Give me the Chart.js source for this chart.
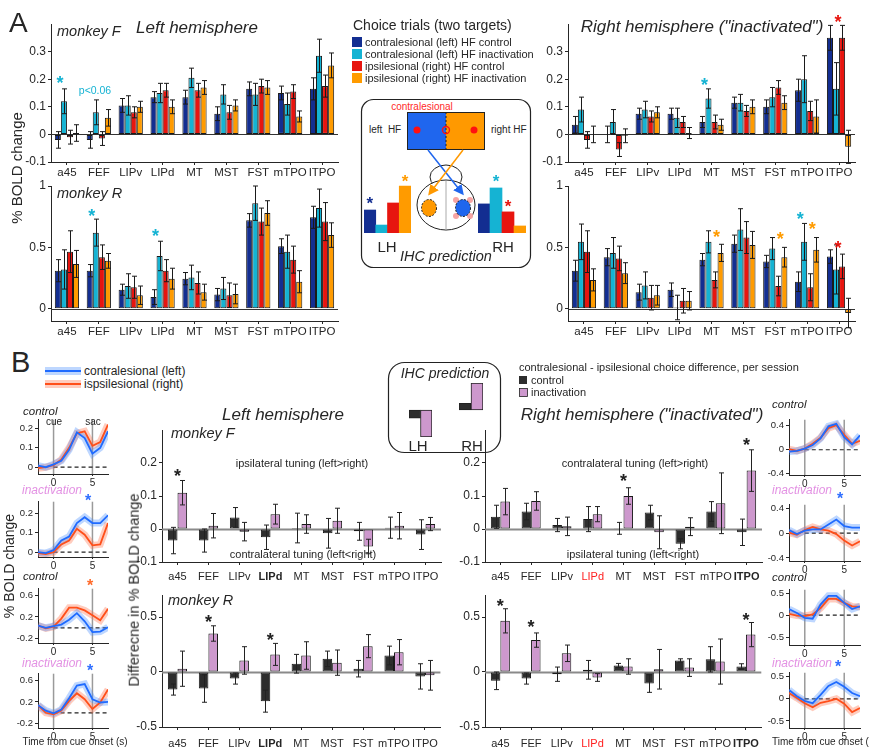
<!DOCTYPE html>
<html lang="en">
<head>
  <meta charset="UTF-8" />
  <title>Choice trials BOLD</title>
  <style>
    body { margin: 0; background: #fff; }
    #fig { position: relative; width: 869px; height: 750px; overflow: hidden; font-family: "Liberation Sans", Arial, sans-serif; color: #262626; }
    #fig canvas { position: absolute; }
    #fig svg { position: absolute; left: 0; top: 0; }
    .t { position: absolute; white-space: nowrap; line-height: 1; }
  </style>
  <script src="https://cdn.jsdelivr.net/npm/chart.js"></script>
</head>
<body>
<div id="fig">
  <svg width="869" height="750">
    <defs>
      <marker id="ab" markerWidth="7" markerHeight="7" refX="5" refY="3.5" orient="auto"><path d="M0,0 L7,3.5 L0,7 z" fill="#1f66ee" /></marker>
      <marker id="ao" markerWidth="7" markerHeight="7" refX="5" refY="3.5" orient="auto"><path d="M0,0 L7,3.5 L0,7 z" fill="#ff9900" /></marker>
    </defs>
    <!-- legend A -->
    <rect x="352" y="37" width="10" height="10" fill="#132e91" />
    <rect x="352" y="49" width="10" height="10" fill="#15b3d3" />
    <rect x="352" y="61" width="10" height="10" fill="#e7150f" />
    <rect x="352" y="73" width="10" height="10" fill="#ff9b00" />
    <!-- schematic A -->
    <rect x="361.5" y="99.5" width="169" height="168" rx="12" fill="none" stroke="#222" stroke-width="1.2" />
    <rect x="407" y="112" width="39" height="37" fill="#1f66ee" />
    <rect x="446" y="112" width="38" height="37" fill="#ff9900" />
    <rect x="407.5" y="112.5" width="77" height="37" fill="none" stroke="#222" />
    <line x1="446" y1="112" x2="446" y2="149" stroke="#222" stroke-dasharray="2,2" />
    <circle cx="417" cy="130" r="3.5" fill="#ff1010" />
    <circle cx="446" cy="130" r="3.5" fill="none" stroke="#ff1010" stroke-width="1.3" />
    <circle cx="474" cy="130" r="3.5" fill="#ff1010" />
    <ellipse cx="446" cy="177" rx="16" ry="12" fill="#fff" stroke="#222" />
    <ellipse cx="446" cy="205" rx="29" ry="25" fill="#fff" stroke="#222" />
    <line x1="446" y1="181" x2="446" y2="230" stroke="#aaa" />
    <g fill="#f6a4a4">
      <circle cx="456" cy="200" r="3" /><circle cx="470" cy="200" r="3" />
      <circle cx="456" cy="216" r="3" /><circle cx="470" cy="216" r="3" />
    </g>
    <ellipse cx="429" cy="208" rx="7.5" ry="8.5" fill="#ff9900" stroke="#222" stroke-dasharray="2,1.5" />
    <ellipse cx="463" cy="208" rx="7.5" ry="8.5" fill="#1f66ee" stroke="#222" stroke-dasharray="2,1.5" />
    <line x1="428" y1="150" x2="462" y2="193" stroke="#1f66ee" stroke-width="1.5" marker-end="url(#ab)" />
    <line x1="463" y1="150" x2="430" y2="193" stroke="#ff9900" stroke-width="1.5" marker-end="url(#ao)" />
    <!-- legend B -->
    <line x1="45" y1="371" x2="81" y2="371" stroke="rgba(70,140,255,0.35)" stroke-width="8" />
    <line x1="45" y1="371" x2="81" y2="371" stroke="#1f6bff" stroke-width="2" />
    <line x1="45" y1="384" x2="81" y2="384" stroke="rgba(255,110,70,0.35)" stroke-width="8" />
    <line x1="45" y1="384" x2="81" y2="384" stroke="#ff4f1a" stroke-width="2" />
    <rect x="388.5" y="362.5" width="112" height="90" rx="16" fill="none" stroke="#222" stroke-width="1.2" />
    <rect x="519" y="376" width="8" height="8" fill="#2d2d2d" />
    <rect x="519.5" y="388.5" width="8" height="8" fill="#cd98cd" stroke="#222" stroke-width="0.8" />
  </svg>
</div>
<script>
  // ---- categories and ticks
  const areas = ['a45', 'FEF', 'LIPv', 'LIPd', 'MT', 'MST', 'FST', 'mTPO', 'ITPO'];
  const condColors = ['#132e91', '#15b3d3', '#e7150f', '#ff9b00'];
  const diffColors = ['#2d2d2d', '#cd98cd'];
  const ticksAF = [-0.1, 0, 0.1, 0.2, 0.3];
  const ticksAR = [0, 0.5, 1];
  const ticksBF = [-0.1, 0, 0.1, 0.2];
  const ticksBR = [-0.5, 0, 0.5];
  const timeS = [-2, -1, 0, 1, 2, 3, 4, 5, 6, 7];
  const timeTicks = [0, 5];
  const eventTimes = [0, 5];

  // ---- A: monkey F, left hemisphere (contra ctrl, contra inact, ipsi ctrl, ipsi inact)
  const fL_cc = [-0.02, -0.02, 0.105, 0.135, 0.135, 0.075, 0.165, 0.15, 0.165];
  const fL_ci = [0.12, 0.08, 0.105, 0.15, 0.205, 0.145, 0.145, 0.11, 0.285];
  const fL_ic = [-0.01, -0.015, 0.08, 0.16, 0.16, 0.08, 0.175, 0.155, 0.175];
  const fL_ii = [0.005, 0.06, 0.1, 0.1, 0.17, 0.105, 0.17, 0.065, 0.25];
  const fL_cc_e = [0.03, 0.03, 0.025, 0.02, 0.025, 0.025, 0.025, 0.025, 0.04];
  const fL_ci_e = [0.045, 0.045, 0.035, 0.035, 0.035, 0.035, 0.04, 0.04, 0.06];
  const fL_ic_e = [0.025, 0.025, 0.02, 0.025, 0.025, 0.025, 0.025, 0.025, 0.04];
  const fL_ii_e = [0.03, 0.03, 0.02, 0.025, 0.025, 0.02, 0.025, 0.02, 0.045];
  const fL_stars = [[0, 1, 0.2]];

  // monkey R, left hemisphere
  const rL_cc = [0.31, 0.31, 0.155, 0.095, 0.245, 0.115, 0.72, 0.51, 0.745];
  const rL_ci = [0.32, 0.62, 0.185, 0.43, 0.255, 0.165, 0.86, 0.465, 0.82];
  const rL_ic = [0.465, 0.42, 0.175, 0.31, 0.21, 0.11, 0.71, 0.40, 0.71];
  const rL_ii = [0.365, 0.39, 0.11, 0.245, 0.135, 0.12, 0.78, 0.22, 0.60];
  const rL_cc_e = [0.09, 0.05, 0.045, 0.06, 0.05, 0.05, 0.055, 0.06, 0.09];
  const rL_ci_e = [0.16, 0.11, 0.1, 0.12, 0.1, 0.09, 0.14, 0.135, 0.155];
  const rL_ic_e = [0.17, 0.1, 0.09, 0.09, 0.09, 0.1, 0.11, 0.11, 0.155];
  const rL_ii_e = [0.11, 0.06, 0.075, 0.085, 0.065, 0.08, 0.1, 0.09, 0.1];
  const rL_stars = [[1, 1, 0.78], [3, 1, 0.62]];

  // monkey F, right hemisphere
  const fR_cc = [0.035, 0.0, 0.075, 0.075, 0.045, 0.115, 0.10, 0.16, 0.35];
  const fR_ci = [0.09, 0.045, 0.09, 0.06, 0.13, 0.115, 0.135, 0.20, 0.165];
  const fR_ic = [-0.02, -0.055, 0.065, 0.045, 0.045, 0.085, 0.17, 0.085, 0.35];
  const fR_ii = [0.0, -0.005, 0.08, 0.005, 0.035, 0.10, 0.115, 0.065, -0.045];
  const fR_cc_e = [0.03, 0.03, 0.02, 0.02, 0.02, 0.02, 0.025, 0.04, 0.045];
  const fR_ci_e = [0.045, 0.045, 0.03, 0.035, 0.035, 0.03, 0.035, 0.085, 0.095];
  const fR_ic_e = [0.03, 0.025, 0.02, 0.02, 0.025, 0.02, 0.025, 0.035, 0.045];
  const fR_ii_e = [0.03, 0.025, 0.02, 0.02, 0.02, 0.025, 0.025, 0.06, 0.06];
  const fR_stars = [[4, 1, 0.193], [8, 2, 0.42]];

  // monkey R, right hemisphere
  const rR_cc = [0.31, 0.42, 0.135, 0.155, 0.40, 0.53, 0.385, 0.22, 0.425];
  const rR_ci = [0.545, 0.455, 0.19, 0.01, 0.545, 0.645, 0.49, 0.545, 0.32];
  const rR_ic = [0.465, 0.41, 0.09, 0.065, 0.235, 0.58, 0.185, 0.175, 0.345];
  const rR_ii = [0.235, 0.29, 0.11, 0.065, 0.455, 0.52, 0.42, 0.48, -0.035];
  const rR_cc_e = [0.085, 0.07, 0.065, 0.055, 0.05, 0.07, 0.05, 0.08, 0.055];
  const rR_ci_e = [0.145, 0.125, 0.11, 0.1, 0.09, 0.17, 0.09, 0.15, 0.2];
  const rR_ic_e = [0.17, 0.1, 0.1, 0.1, 0.065, 0.13, 0.08, 0.11, 0.1];
  const rR_ii_e = [0.09, 0.085, 0.08, 0.075, 0.07, 0.11, 0.08, 0.1, 0.12];
  const rR_stars = [[4, 3, 0.61], [6, 3, 0.60], [7, 1, 0.76], [7, 3, 0.68], [8, 2, 0.52]];

  // schematic prediction bars (contra ctrl, contra inact, ipsi ctrl, ipsi inact)
  const predA_LH = [0.49, 0.17, 0.64, 1.0];
  const predA_RH = [0.62, 0.96, 0.45, 0.15];
  const predA_LH_stars = [[0, 0.70], [3, 1.17]];
  const predA_RH_stars = [[1, 1.17], [2, 0.64]];

  // ---- B: contra - ipsi difference (control, inactivation)
  const bFL_ctrl = [-0.035, -0.035, 0.035, -0.025, 0.003, -0.013, -0.007, 0.004, -0.017];
  const bFL_inact = [0.11, 0.01, -0.008, 0.045, 0.015, 0.025, -0.053, 0.01, 0.015];
  const bFL_ctrl_e = [0.04, 0.035, 0.03, 0.037, 0.045, 0.045, 0.027, 0.032, 0.045];
  const bFL_inact_e = [0.037, 0.037, 0.028, 0.03, 0.028, 0.038, 0.022, 0.04, 0.02];
  const bFL_stars = [[0, 0.17]];

  const bFR_ctrl = [0.037, 0.053, 0.012, 0.03, 0.002, 0.05, -0.045, 0.053, -0.01];
  const bFR_inact = [0.083, 0.085, 0.008, 0.045, 0.10, -0.01, 0.007, 0.078, 0.177];
  const bFR_ctrl_e = [0.035, 0.025, 0.02, 0.038, 0.018, 0.022, 0.015, 0.03, 0.04];
  const bFR_inact_e = [0.04, 0.028, 0.028, 0.023, 0.025, 0.05, 0.027, 0.092, 0.063];
  const bFR_stars = [[4, 0.155], [8, 0.265]];

  const bRL_ctrl = [-0.16, -0.15, -0.06, -0.265, 0.075, 0.12, 0.03, 0.15, -0.04];
  const bRL_inact = [0.03, 0.35, 0.105, 0.16, 0.15, 0.085, 0.235, 0.18, -0.03];
  const bRL_ctrl_e = [0.05, 0.125, 0.05, 0.1, 0.085, 0.07, 0.075, 0.085, 0.115];
  const bRL_inact_e = [0.16, 0.07, 0.125, 0.1, 0.125, 0.115, 0.105, 0.115, 0.135];
  const bRL_stars = [[1, 0.485], [3, 0.32]];

  const bRR_ctrl = [-0.08, -0.06, -0.02, 0.02, 0.06, -0.105, 0.105, 0.115, 0.05];
  const bRR_inact = [0.465, 0.29, 0.17, -0.05, 0.05, 0.025, 0.04, 0.095, 0.34];
  const bRR_ctrl_e = [0.08, 0.05, 0.065, 0.085, 0.018, 0.08, 0.015, 0.115, 0.025];
  const bRR_inact_e = [0.11, 0.065, 0.075, 0.035, 0.07, 0.18, 0.08, 0.205, 0.11];
  const bRR_stars = [[0, 0.636], [1, 0.44], [8, 0.5]];

  const predB_LH = [-0.3, -1.0];
  const predB_RH = [0.25, 1.0];

  // ---- time courses (contralesional = blue, ipsilesional = orange)
  const tcL1_contra = [0.008, 0.0, 0.015, 0.033, 0.09, 0.18, 0.15, 0.07, 0.10, 0.185];
  const tcL1_ipsi = [-0.005, 0.0, 0.01, 0.04, 0.10, 0.175, 0.185, 0.11, 0.13, 0.22];
  const tcL2_contra = [0.0, -0.005, 0.01, 0.06, 0.08, 0.15, 0.18, 0.15, 0.15, 0.19];
  const tcL2_ipsi = [-0.005, -0.01, 0.0, 0.04, 0.06, 0.12, 0.09, 0.035, 0.04, 0.15];
  const tcL3_contra = [0.04, 0.0, 0.03, 0.06, 0.15, 0.27, 0.12, -0.08, -0.07, 0.01];
  const tcL3_ipsi = [0.04, -0.01, 0.02, 0.17, 0.37, 0.37, 0.32, 0.23, 0.14, 0.35];
  const tcL4_contra = [0.14, 0.04, -0.01, 0.06, 0.27, 0.5, 0.53, 0.25, 0.19, 0.2];
  const tcL4_ipsi = [0.14, 0.0, -0.03, 0.04, 0.22, 0.36, 0.25, 0.07, 0.19, 0.43];
  const tcR1_contra = [-0.03, -0.02, 0.02, 0.08, 0.19, 0.39, 0.43, 0.21, 0.09, 0.24];
  const tcR1_ipsi = [0.01, -0.02, 0.02, 0.1, 0.2, 0.36, 0.41, 0.25, 0.1, 0.15];
  const tcR2_contra = [0.05, -0.015, 0.04, 0.06, 0.06, 0.14, 0.22, 0.115, 0.09, 0.09];
  const tcR2_ipsi = [0.01, -0.025, 0.05, 0.1, 0.06, 0.04, -0.015, -0.12, -0.2, -0.13];
  const tcR3_contra = [0.14, 0.05, -0.06, -0.08, 0.24, 0.44, 0.44, 0.28, 0.14, 0.2];
  const tcR3_ipsi = [0.03, -0.01, -0.02, 0.015, 0.16, 0.37, 0.37, 0.28, 0.2, 0.19];
  const tcR4_contra = [0.2, 0.06, -0.05, -0.1, 0.09, 0.29, 0.38, 0.27, 0.13, 0.06];
  const tcR4_ipsi = [0.13, 0.02, -0.1, -0.19, -0.09, -0.05, 0.0, -0.11, -0.3, -0.21];

  // ---- setup
  Chart.defaults.font.family = '"Liberation Sans", Arial, sans-serif';
  Chart.defaults.color = '#262626';
  Chart.defaults.animation = false;
  Chart.defaults.plugins.legend.display = false;
  Chart.defaults.plugins.tooltip.enabled = false;

  const fig = document.getElementById('fig');
  const ink = '#262626';

  function makeCanvas(b) {
    const c = document.createElement('canvas');
    const w = b.r - b.l + b.yw + b.pr, h = b.b - b.t + b.xh + b.pt;
    c.width = w; c.height = h;
    c.style.left = (b.l - b.yw) + 'px';
    c.style.top = (b.t - b.pt) + 'px';
    c.style.width = w + 'px'; c.style.height = h + 'px';
    fig.appendChild(c);
    return c;
  }

  function txt(s, x, y, o = {}) {
    const d = document.createElement('div');
    d.className = 't';
    d.textContent = s;
    d.style.left = x + 'px'; d.style.top = y + 'px';
    d.style.fontSize = (o.size || 12) + 'px';
    if (o.it) d.style.fontStyle = 'italic';
    if (o.bold) d.style.fontWeight = 'bold';
    if (o.color) d.style.color = o.color;
    const ax = o.left ? '0' : '-50%';
    d.style.transform = `translate(${ax}, -50%)` + (o.rot ? ' rotate(-90deg)' : '');
    fig.appendChild(d);
  }
  const star = (x, y, color, size = 16) => txt('*', x, y + 0.23 * size, { size, color, bold: true });

  // plugins
  function errBars(errs, cap, color) {
    return {
      id: 'errBars',
      afterDatasetsDraw(chart) {
        const ctx = chart.ctx, y = chart.scales.y;
        ctx.save();
        ctx.strokeStyle = color; ctx.lineWidth = 1;
        errs.forEach((err, i) => {
          const vals = chart.data.datasets[i].data;
          chart.getDatasetMeta(i).data.forEach((bar, j) => {
            const lo = y.getPixelForValue(vals[j] - err[j]);
            const hi = y.getPixelForValue(vals[j] + err[j]);
            const x = Math.round(bar.x) + 0.5;
            ctx.beginPath();
            ctx.moveTo(x, lo); ctx.lineTo(x, hi);
            ctx.moveTo(x - cap, lo); ctx.lineTo(x + cap, lo);
            ctx.moveTo(x - cap, hi); ctx.lineTo(x + cap, hi);
            ctx.stroke();
          });
        });
        ctx.restore();
      }
    };
  }

  // list items: {a: category index, s: dataset index or null for category centre, v: value, c: colour}
  function starMarks(list, size, dx) {
    return {
      id: 'starMarks',
      afterDatasetsDraw(chart) {
        const { ctx, scales: { x, y } } = chart;
        ctx.save();
        ctx.font = `bold ${size}px "Liberation Sans", Arial`;
        ctx.textAlign = 'center'; ctx.textBaseline = 'middle';
        list.forEach(st => {
          const px = st.s == null ? x.getPixelForValue(st.a) : chart.getDatasetMeta(st.s).data[st.a].x + dx;
          ctx.fillStyle = st.c;
          ctx.fillText('*', px, y.getPixelForValue(st.v) + size * 0.25);
        });
        ctx.restore();
      }
    };
  }

  function refLines(o) {
    return {
      id: 'refLines',
      beforeDatasetsDraw(chart) {
        const { ctx, chartArea: a, scales: { x, y } } = chart;
        ctx.save();
        if (o.zeroColor) {
          const py = Math.round(y.getPixelForValue(0)) + 0.5;
          ctx.strokeStyle = o.zeroColor; ctx.lineWidth = o.zeroWidth;
          ctx.beginPath(); ctx.moveTo(a.left, py); ctx.lineTo(a.right, py); ctx.stroke();
        }
        if (o.events) {
          ctx.strokeStyle = '#9a9a9a'; ctx.lineWidth = 1.5;
          o.events.forEach(t => {
            const px = x.getPixelForValue(t);
            ctx.beginPath(); ctx.moveTo(px, a.top); ctx.lineTo(px, a.bottom); ctx.stroke();
          });
          const py = y.getPixelForValue(0);
          ctx.strokeStyle = '#222'; ctx.lineWidth = 1.2; ctx.setLineDash([4, 3]);
          ctx.beginPath(); ctx.moveTo(x.getPixelForValue(o.events[0]), py); ctx.lineTo(a.right, py); ctx.stroke();
        }
        ctx.restore();
      }
    };
  }

  // axes
  function yAxis(b, min, max, ticks, size) {
    return {
      type: 'linear', min, max,
      afterFit: s => { s.width = b.yw; },
      afterBuildTicks: s => { s.ticks = ticks.map(v => ({ value: v })); },
      border: { color: ink },
      grid: { drawOnChartArea: false, tickLength: 3, color: ink },
      ticks: { font: { size }, padding: 2, color: ink, callback: v => String(v) }
    };
  }
  function catAxis(b, pad, color, font) {
    return {
      type: 'category', offset: true,
      afterFit: s => { s.height = b.xh; },
      border: { color: ink },
      grid: { offset: false, drawOnChartArea: false, tickLength: 3, color: ink },
      ticks: { autoSkip: false, maxRotation: 0, padding: pad, color, font }
    };
  }

  // ---- panel A bar charts
  function barsA(b, vals, errs, yMin, yMax, yTicks, stars) {
    new Chart(makeCanvas(b), {
      type: 'bar',
      data: {
        labels: areas,
        datasets: vals.map((v, i) => ({
          data: v, backgroundColor: condColors[i], borderColor: '#1a1a1a', borderWidth: 1,
          borderSkipped: false, categoryPercentage: 0.76, barPercentage: 1
        }))
      },
      options: {
        responsive: false,
        layout: { padding: { top: b.pt, right: b.pr, left: 0, bottom: 0 } },
        scales: { x: catAxis(b, 1, ink, { size: 11.5 }), y: yAxis(b, yMin, yMax, yTicks, 12) }
      },
      plugins: [
        refLines({ zeroColor: '#333', zeroWidth: 1 }),
        errBars(errs, 2.5, '#1a1a1a'),
        starMarks(stars.map(s => ({ a: s[0], s: s[1], v: s[2], c: condColors[s[1]] })), 18, -4)
      ]
    });
  }

  const bxAFL = { l: 51, r: 338, t: 24, b: 162, yw: 38, xh: 22, pt: 14, pr: 6 };
  const bxARL = { l: 51, r: 338, t: 186, b: 321, yw: 38, xh: 22, pt: 14, pr: 6 };
  const bxAFR = { l: 568, r: 855, t: 24, b: 162, yw: 38, xh: 22, pt: 14, pr: 6 };
  const bxARR = { l: 568, r: 855, t: 186, b: 321, yw: 38, xh: 22, pt: 14, pr: 6 };

  barsA(bxAFL, [fL_cc, fL_ci, fL_ic, fL_ii], [fL_cc_e, fL_ci_e, fL_ic_e, fL_ii_e], -0.1, 0.4, ticksAF, fL_stars);
  barsA(bxARL, [rL_cc, rL_ci, rL_ic, rL_ii], [rL_cc_e, rL_ci_e, rL_ic_e, rL_ii_e], -0.1, 1.0, ticksAR, rL_stars);
  barsA(bxAFR, [fR_cc, fR_ci, fR_ic, fR_ii], [fR_cc_e, fR_ci_e, fR_ic_e, fR_ii_e], -0.1, 0.4, ticksAF, fR_stars);
  barsA(bxARR, [rR_cc, rR_ci, rR_ic, rR_ii], [rR_cc_e, rR_ci_e, rR_ic_e, rR_ii_e], -0.1, 1.0, ticksAR, rR_stars);

  // ---- small prediction bars (schematics)
  function miniBars(b, vals, colors, min, max, stars, border) {
    new Chart(makeCanvas({ ...b, yw: 0, xh: 0, pt: 0, pr: 0 }), {
      type: 'bar',
      data: {
        labels: vals.map((_, i) => i),
        datasets: [{ data: vals, backgroundColor: colors, borderColor: '#222', borderWidth: border,
          borderSkipped: false, categoryPercentage: 1, barPercentage: 1 }]
      },
      options: {
        responsive: false,
        layout: { padding: 0 },
        scales: { x: { display: false }, y: { display: false, min, max } }
      },
      plugins: [starMarks(stars.map(s => ({ a: s[0], s: 0, v: s[1], c: colors[s[0]] })), 17, 0)]
    });
  }
  miniBars({ l: 364, r: 411, t: 172, b: 233 }, predA_LH, condColors, 0, 1.3, predA_LH_stars, 0);
  miniBars({ l: 478, r: 526, t: 172, b: 233 }, predA_RH, condColors, 0, 1.3, predA_RH_stars, 0);
  miniBars({ l: 409, r: 432, t: 383, b: 437 }, predB_LH, diffColors, -1, 1, [], 1);
  miniBars({ l: 459, r: 483, t: 383, b: 437 }, predB_RH, diffColors, -1, 1, [], 1);

  // ---- panel B bar charts
  function barsB(b, vals, errs, yMin, yMax, yTicks, stars, pad, boldTicks, redTicks) {
    new Chart(makeCanvas(b), {
      type: 'bar',
      data: {
        labels: areas,
        datasets: vals.map((v, i) => ({
          data: v, backgroundColor: diffColors[i], borderColor: '#1a1a1a', borderWidth: 1,
          borderSkipped: false, categoryPercentage: 0.62, barPercentage: 1
        }))
      },
      options: {
        responsive: false,
        layout: { padding: { top: b.pt, right: b.pr, left: 0, bottom: 0 } },
        scales: {
          x: catAxis(b, pad,
            c => redTicks.includes(areas[c.index]) ? '#ff1f1f' : ink,
            c => ({ size: 11, weight: boldTicks.includes(areas[c.index]) ? 'bold' : 'normal' })),
          y: yAxis(b, yMin, yMax, yTicks, 12)
        }
      },
      plugins: [
        refLines({ zeroColor: '#8a8a8a', zeroWidth: 2 }),
        errBars(errs, 2.5, '#222'),
        starMarks(stars.map(s => ({ a: s[0], s: null, v: s[1], c: '#222' })), 18, 0)
      ]
    });
  }

  const bxBFL = { l: 162, r: 441, t: 430, b: 562, yw: 30, xh: 24, pt: 12, pr: 4 };
  const bxBRL = { l: 162, r: 441, t: 595, b: 727, yw: 30, xh: 24, pt: 12, pr: 4 };
  const bxBFR = { l: 485, r: 762, t: 430, b: 562, yw: 30, xh: 24, pt: 12, pr: 4 };
  const bxBRR = { l: 485, r: 762, t: 595, b: 727, yw: 30, xh: 24, pt: 12, pr: 4 };

  barsB(bxBFL, [bFL_ctrl, bFL_inact], [bFL_ctrl_e, bFL_inact_e], -0.1, 0.3, ticksBF, bFL_stars, 5, ['LIPd'], []);
  barsB(bxBRL, [bRL_ctrl, bRL_inact], [bRL_ctrl_e, bRL_inact_e], -0.5, 0.7, ticksBR, bRL_stars, 7, ['LIPd'], []);
  barsB(bxBFR, [bFR_ctrl, bFR_inact], [bFR_ctrl_e, bFR_inact_e], -0.1, 0.3, ticksBF, bFR_stars, 5, ['ITPO'], ['LIPd']);
  barsB(bxBRR, [bRR_ctrl, bRR_inact], [bRR_ctrl_e, bRR_inact_e], -0.5, 0.7, ticksBR, bRR_stars, 7, ['ITPO'], ['LIPd']);

  // ---- time courses
  function timeCourse(b, contra, ipsi, yMin, yMax, yTicks) {
    const pts = arr => arr.map((v, i) => ({ x: timeS[i], y: v }));
    const line = (arr, color, w) => ({ data: pts(arr), borderColor: color, borderWidth: w, pointRadius: 0, tension: 0 });
    new Chart(makeCanvas(b), {
      type: 'line',
      data: {
        datasets: [
          line(contra, '#1f6bff', 1.8),
          line(ipsi, '#ff4f1a', 1.8),
          line(contra, 'rgba(70,140,255,0.35)', 7),
          line(ipsi, 'rgba(255,110,70,0.35)', 7)
        ]
      },
      options: {
        responsive: false,
        layout: { padding: { top: b.pt, right: b.pr, left: 0, bottom: 0 } },
        scales: {
          x: {
            type: 'linear', min: timeS[0], max: timeS[timeS.length - 1],
            afterFit: s => { s.height = b.xh; },
            afterBuildTicks: s => { s.ticks = timeTicks.map(v => ({ value: v })); },
            border: { color: ink },
            grid: { drawOnChartArea: false, tickLength: 2, color: ink },
            ticks: { font: { size: 10 }, padding: 1, color: ink }
          },
          y: yAxis(b, yMin, yMax, yTicks, 9.5)
        }
      },
      plugins: [refLines({ events: eventTimes })]
    });
  }

  const side = (l, r, t, bt) => ({ l, r, t, b: bt, yw: 24, xh: 14, pt: 6, pr: 4 });
  timeCourse(side(38, 108, 418, 474), tcL1_contra, tcL1_ipsi, -0.035, 0.245, [0, 0.1, 0.2]);
  timeCourse(side(38, 108, 500, 557), tcL2_contra, tcL2_ipsi, -0.025, 0.26, [0, 0.1, 0.2]);
  timeCourse(side(38, 108, 587, 643), tcL3_contra, tcL3_ipsi, -0.28, 0.72, [-0.2, 0.2, 0.6]);
  timeCourse(side(38, 108, 672, 728), tcL4_contra, tcL4_ipsi, -0.28, 0.72, [-0.2, 0.2, 0.6]);
  timeCourse(side(789, 860, 418, 475), tcR1_contra, tcR1_ipsi, -0.42, 0.5, [-0.4, 0, 0.4]);
  timeCourse(side(789, 860, 503, 561), tcR2_contra, tcR2_ipsi, -0.45, 0.46, [-0.4, 0, 0.4]);
  timeCourse(side(789, 860, 588, 645), tcR3_contra, tcR3_ipsi, -0.68, 0.58, [-0.5, 0, 0.5]);
  timeCourse(side(789, 860, 671, 728), tcR4_contra, tcR4_ipsi, -0.66, 0.59, [-0.5, 0, 0.5]);

  // ---- text
  const pink = '#e391e3';
  txt('A', 9, 23, { size: 28, left: true });
  txt('monkey F', 57, 31, { size: 14.5, it: true, left: true });
  txt('monkey R', 57, 193, { size: 14.5, it: true, left: true });
  txt('Left hemisphere', 197, 27, { size: 17, it: true });
  txt('Right hemisphere ("inactivated")', 702, 26, { size: 17, it: true });
  txt('% BOLD change', 16, 168, { size: 15, rot: true });
  txt('p<0.06', 95, 90, { size: 10.5, color: '#15b3d3' });
  txt('Choice trials (two targets)', 353, 25, { size: 14, left: true });
  txt('contralesional (left) HF control', 365, 42, { size: 11, left: true });
  txt('contralesional (left) HF inactivation', 365, 54, { size: 11, left: true });
  txt('ipsilesional (right) HF control', 365, 66, { size: 11, left: true });
  txt('ipsilesional (right) HF inactivation', 365, 78, { size: 11, left: true });
  txt('contralesional', 422, 107, { size: 10, color: '#ff2a2a' });
  txt('left\u00a0\u00a0HF', 369, 130, { size: 10, left: true });
  txt('right HF', 491, 130, { size: 10, left: true });
  txt('LH', 387, 246, { size: 15 });
  txt('RH', 503, 246, { size: 15 });
  txt('IHC prediction', 446, 256, { size: 14.5, it: true });

  txt('B', 11, 362, { size: 29, left: true });
  txt('contralesional (left)', 84, 371, { size: 12, left: true });
  txt('ispsilesional (right)', 84, 384, { size: 12, left: true });
  txt('IHC prediction', 445, 373, { size: 14, it: true });
  txt('LH', 418, 445, { size: 15 });
  txt('RH', 472, 445, { size: 15 });
  txt('contralesional - ipsilesional choice difference, per session', 519, 367, { size: 11, left: true });
  txt('control', 531, 380, { size: 11, left: true });
  txt('inactivation', 531, 392, { size: 11, left: true });
  txt('Left hemisphere', 283, 414, { size: 17, it: true });
  txt('Right hemisphere ("inactivated")', 642, 414, { size: 17, it: true });
  txt('monkey F', 171, 433, { size: 14.5, it: true, left: true });
  txt('monkey R', 168, 600, { size: 14.5, it: true, left: true });
  txt('ipsilateral tuning (left>right)', 302, 463, { size: 11 });
  txt('contralateral tuning (left<right)', 303, 554, { size: 11 });
  txt('contralateral tuning (left>right)', 635, 463, { size: 11 });
  txt('ipsilateral tuning (left<right)', 633, 554, { size: 11 });
  txt('Differecne in % BOLD change', 134, 590, { size: 14.5, rot: true });

  txt('control', 23, 412, { size: 11.5, it: true, left: true });
  txt('cue', 54, 422, { size: 10 });
  txt('sac', 93, 422, { size: 10 });
  txt('inactivation', 22, 490, { size: 12, it: true, left: true, color: pink });
  star(88, 497, '#2f6fff');
  txt('control', 23, 577, { size: 11.5, it: true, left: true });
  star(90, 582, '#ff6a2a');
  txt('inactivation', 22, 663, { size: 12, it: true, left: true, color: pink });
  star(90, 667, '#2f6fff');
  txt('Time from cue onset (s)', 75, 742, { size: 10 });
  txt('% BOLD change', 9, 566, { size: 14, rot: true });

  txt('control', 772, 405, { size: 11.5, it: true, left: true });
  txt('inactivation', 772, 490, { size: 12, it: true, left: true, color: pink });
  star(840, 495, '#2f6fff');
  txt('control', 772, 578, { size: 11.5, it: true, left: true });
  txt('inactivation', 772, 663, { size: 12, it: true, left: true, color: pink });
  star(838, 663, '#2f6fff');
  txt('Time from cue onset (s)', 772, 742, { size: 10, left: true });
</script>
</body>
</html>
